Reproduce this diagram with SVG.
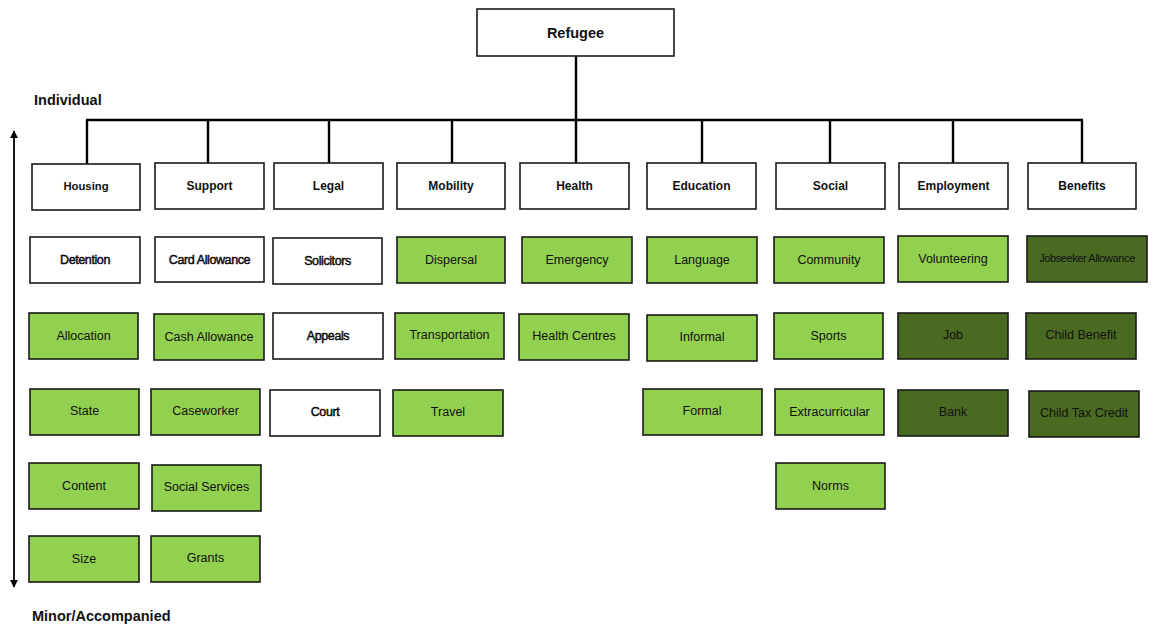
<svg xmlns="http://www.w3.org/2000/svg" width="1152" height="624" viewBox="0 0 1152 624">
<defs>
<style>
.box{stroke:#1a1a1a;stroke-width:1.6}
.w{fill:#ffffff}
.g{fill:#92d050}
.d{fill:#4a6a21}
text{font-family:"Liberation Sans",Arial,sans-serif;fill:#111;text-anchor:middle}
.cat{font-size:12px;font-weight:bold}
.it{font-size:12.5px}
.wt{font-size:12.5px;stroke:#000;stroke-width:0.45;letter-spacing:-0.4px}
.lbl{font-size:14.5px;font-weight:bold;text-anchor:start}
.conn{stroke:#000;stroke-width:2.4;fill:none}
</style>
<marker id="ah" viewBox="0 0 10 10" refX="9" refY="5" markerWidth="4.5" markerHeight="4.5" orient="auto-start-reverse">
<path d="M0,0 L10,5 L0,10 z" fill="#000"/>
</marker>
</defs>
<rect width="1152" height="624" fill="#ffffff"/>

<g id="connectors">
<line class="conn" x1="576" y1="56" x2="576" y2="163"/>
<line class="conn" x1="86" y1="120" x2="1083" y2="120"/>
<line class="conn" x1="87" y1="120" x2="87" y2="164"/>
<line class="conn" x1="208" y1="120" x2="208" y2="163"/>
<line class="conn" x1="329" y1="120" x2="329" y2="163"/>
<line class="conn" x1="452" y1="120" x2="452" y2="163"/>
<line class="conn" x1="702" y1="120" x2="702" y2="163"/>
<line class="conn" x1="830" y1="120" x2="830" y2="163"/>
<line class="conn" x1="953" y1="120" x2="953" y2="163"/>
<line class="conn" x1="1082" y1="120" x2="1082" y2="163"/>
</g>

<g id="axis">
<line x1="14" y1="131" x2="14" y2="587" stroke="#000" stroke-width="1.8" marker-start="url(#ah)" marker-end="url(#ah)"/>
<text class="lbl" x="34" y="105">Individual</text>
<text class="lbl" x="32" y="621">Minor/Accompanied</text>
</g>

<g id="refugee"><rect class="box w" x="477" y="9" width="197" height="47"/><text x="575.5" y="38" style="font-size:14.5px;font-weight:bold">Refugee</text></g>

<g id="housing"><rect class="box w" x="32" y="164" width="108" height="46"/><text class="cat" x="86" y="190" style="font-size:11.3px">Housing</text></g>
<g id="support"><rect class="box w" x="155" y="163" width="109" height="46"/><text class="cat" x="209.5" y="190">Support</text></g>
<g id="legal"><rect class="box w" x="274" y="163" width="109" height="46"/><text class="cat" x="328.5" y="190">Legal</text></g>
<g id="mobility"><rect class="box w" x="397" y="163" width="108" height="46"/><text class="cat" x="451" y="190">Mobility</text></g>
<g id="health"><rect class="box w" x="520" y="163" width="109" height="46"/><text class="cat" x="574.5" y="190">Health</text></g>
<g id="education"><rect class="box w" x="647" y="163" width="109" height="46"/><text class="cat" x="701.5" y="190">Education</text></g>
<g id="social"><rect class="box w" x="776" y="163" width="109" height="46"/><text class="cat" x="830.5" y="190">Social</text></g>
<g id="employment"><rect class="box w" x="899" y="163" width="109" height="46"/><text class="cat" x="953.5" y="190">Employment</text></g>
<g id="benefits"><rect class="box w" x="1028" y="163" width="108" height="46"/><text class="cat" x="1082" y="190">Benefits</text></g>

<g id="detention"><rect class="box w" x="30" y="237" width="110" height="46"/><text class="wt" x="85" y="264">Detention</text></g>
<g id="card-allowance"><rect class="box w" x="155" y="237" width="109" height="45"/><text class="wt" x="209.5" y="264">Card Allowance</text></g>
<g id="solicitors"><rect class="box w" x="273" y="238" width="109" height="46"/><text class="wt" x="327.5" y="265">Solicitors</text></g>
<g id="dispersal"><rect class="box g" x="397" y="237" width="108" height="46"/><text class="it" x="451" y="264">Dispersal</text></g>
<g id="emergency"><rect class="box g" x="522" y="237" width="110" height="46"/><text class="it" x="577" y="264">Emergency</text></g>
<g id="language"><rect class="box g" x="647" y="237" width="110" height="46"/><text class="it" x="702" y="264">Language</text></g>
<g id="community"><rect class="box g" x="774" y="237" width="110" height="46"/><text class="it" x="829" y="264">Community</text></g>
<g id="volunteering"><rect class="box g" x="898" y="236" width="110" height="46"/><text class="it" x="953" y="263">Volunteering</text></g>
<g id="jobseeker-allowance"><rect class="box d" x="1027" y="236" width="120" height="46"/><text class="it" x="1087" y="262" style="font-size:11px;letter-spacing:-0.4px">Jobseeker Allowance</text></g>

<g id="allocation"><rect class="box g" x="29" y="313" width="109" height="46"/><text class="it" x="83.5" y="340">Allocation</text></g>
<g id="cash-allowance"><rect class="box g" x="154" y="314" width="110" height="46"/><text class="it" x="209" y="341">Cash Allowance</text></g>
<g id="appeals"><rect class="box w" x="273" y="313" width="110" height="46"/><text class="wt" x="328" y="340">Appeals</text></g>
<g id="transportation"><rect class="box g" x="395" y="313" width="109" height="46"/><text class="it" x="449.5" y="339">Transportation</text></g>
<g id="health-centres"><rect class="box g" x="519" y="314" width="110" height="46"/><text class="it" x="574" y="340">Health Centres</text></g>
<g id="informal"><rect class="box g" x="647" y="315" width="110" height="46"/><text class="it" x="702" y="341">Informal</text></g>
<g id="sports"><rect class="box g" x="774" y="313" width="109" height="46"/><text class="it" x="828.5" y="340">Sports</text></g>
<g id="job"><rect class="box d" x="898" y="313" width="110" height="46"/><text class="it" x="953" y="339">Job</text></g>
<g id="child-benefit"><rect class="box d" x="1026" y="313" width="110" height="46"/><text class="it" x="1081" y="339">Child Benefit</text></g>

<g id="state"><rect class="box g" x="30" y="389" width="109" height="46"/><text class="it" x="84.5" y="415">State</text></g>
<g id="caseworker"><rect class="box g" x="151" y="389" width="109" height="46"/><text class="it" x="205.5" y="415">Caseworker</text></g>
<g id="court"><rect class="box w" x="270" y="390" width="110" height="46"/><text class="wt" x="325" y="416">Court</text></g>
<g id="travel"><rect class="box g" x="393" y="390" width="110" height="46"/><text class="it" x="448" y="416">Travel</text></g>
<g id="formal"><rect class="box g" x="643" y="389" width="119" height="46"/><text class="it" x="702" y="415">Formal</text></g>
<g id="extracurricular"><rect class="box g" x="775" y="389" width="109" height="46"/><text class="it" x="829.5" y="416">Extracurricular</text></g>
<g id="bank"><rect class="box d" x="898" y="390" width="110" height="46"/><text class="it" x="953" y="416">Bank</text></g>
<g id="child-tax-credit"><rect class="box d" x="1029" y="391" width="110" height="46"/><text class="it" x="1084" y="417">Child Tax Credit</text></g>

<g id="content"><rect class="box g" x="29" y="463" width="110" height="46"/><text class="it" x="84" y="490">Content</text></g>
<g id="social-services"><rect class="box g" x="152" y="465" width="109" height="46"/><text class="it" x="206.5" y="491">Social Services</text></g>
<g id="norms"><rect class="box g" x="776" y="463" width="109" height="46"/><text class="it" x="830.5" y="490">Norms</text></g>

<g id="size"><rect class="box g" x="29" y="536" width="110" height="46"/><text class="it" x="84" y="563">Size</text></g>
<g id="grants"><rect class="box g" x="151" y="536" width="109" height="46"/><text class="it" x="205.5" y="562">Grants</text></g>
</svg>
